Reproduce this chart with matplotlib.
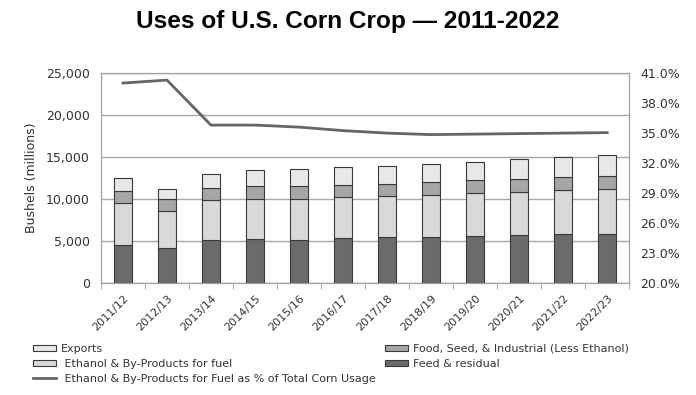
import matplotlib.pyplot as plt
import numpy as np

years = ['2011/12', '2012/13', '2013/14', '2014/15', '2015/16', '2016/17',
         '2017/18', '2018/19', '2019/20', '2020/21', '2021/22', '2022/23']
# stacked segments, millions of bushels
feed = [4530, 4130, 5120, 5240, 5120, 5330, 5450, 5520, 5640, 5680, 5800, 5880]
ethanol = [4970, 4450, 4770, 4810, 4930, 4880, 4920, 5005, 5050, 5200, 5280, 5290]
fsi = [1465, 1395, 1395, 1510, 1510, 1470, 1470, 1515, 1550, 1550, 1550, 1620]
exports = [1585, 1195, 1745, 1910, 2030, 2110, 2105, 2140, 2220, 2310, 2390, 2470]
pct_ethanol = [40.0, 40.3, 35.8, 35.8, 35.6, 35.25, 35.0, 34.85, 34.9, 34.95, 35.0, 35.05]

yticks_left = [0, 5000, 10000, 15000, 20000, 25000]
yticks_right = [20, 23, 26, 29, 32, 35, 38, 41]

fig = plt.figure(figsize=(6.96, 3.95), dpi=100)
ax = fig.add_axes([0.145, 0.283, 0.759, 0.532])
ax2 = ax.twinx()

x = np.arange(len(years))
w = 0.41
ec = '#3a3a3a'
b1 = ax.bar(x, feed, w, color='#6b6b6b', edgecolor=ec, linewidth=0.8, zorder=3)
base = np.array(feed)
b2 = ax.bar(x, ethanol, w, bottom=base, color='#d9d9d9', edgecolor=ec, linewidth=0.8, zorder=3)
base = base + np.array(ethanol)
b3 = ax.bar(x, fsi, w, bottom=base, color='#a6a6a6', edgecolor=ec, linewidth=0.8, zorder=3)
base = base + np.array(fsi)
b4 = ax.bar(x, exports, w, bottom=base, color='#e8e8e8', edgecolor=ec, linewidth=0.8, zorder=3)

ln, = ax2.plot(x, pct_ethanol, color='#666666', linewidth=2)

ax.set_xlim(-0.5, len(years) - 0.5)
ax.set_ylim(0, 25000)
ax2.set_ylim(20, 41)
ax.set_yticks(yticks_left)
ax.set_yticklabels([f'{v:,}' for v in yticks_left], fontsize=9, color='#333333')
ax2.set_yticks(yticks_right)
ax2.set_yticklabels([f'{v:.1f}%' for v in yticks_right], fontsize=9, color='#333333')
ax.yaxis.grid(True, color='#a8a8a8', linewidth=1, zorder=0)
ax.set_axisbelow(True)

ax.set_xticks(x)
ax.set_xticklabels(years, rotation=45, ha='right', rotation_mode='anchor', fontsize=8, color='#333333')
ax.set_xticks(np.arange(-0.5, len(years)), minor=True)
ax.tick_params(axis='x', which='major', length=0, pad=7)
ax.tick_params(axis='x', which='minor', length=4, color='#a0a0a0')
ax.tick_params(axis='y', length=0, pad=8)
ax2.tick_params(axis='y', length=0, pad=8)

for a in (ax, ax2):
    for s in a.spines.values():
        s.set_color('#a0a0a0')

ax.set_ylabel('Bushels (millions)', fontsize=9, color='#333333', labelpad=6)

fig.suptitle('Uses of U.S. Corn Crop \u2014 2011-2022', x=0.5, y=0.975,
             fontsize=17.6, fontweight='heavy', family='Liberation Sans')

handles = [b4, b2, ln, b3, b1]
labels = ['Exports', ' Ethanol & By-Products for fuel',
          ' Ethanol & By-Products for Fuel as % of Total Corn Usage',
          'Food, Seed, & Industrial (Less Ethanol)', 'Feed & residual']
fig.legend(handles, labels, ncol=2, loc='upper left', bbox_to_anchor=(0.033, 0.155),
           frameon=False, fontsize=8, handlelength=2.1, handleheight=0.4,
           labelspacing=0.45, columnspacing=0.85, handletextpad=0.4,
           labelcolor='#333333')

fig.savefig('out.png', dpi=100)
